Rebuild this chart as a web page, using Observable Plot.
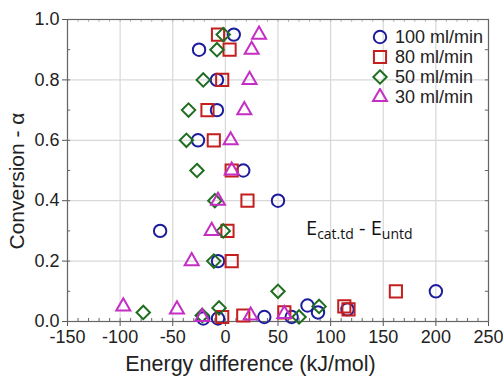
<!DOCTYPE html>
<html><head><meta charset="utf-8">
<script src="https://cdn.jsdelivr.net/npm/d3@7"></script>
<script src="https://cdn.jsdelivr.net/npm/@observablehq/plot@0.6"></script>
<style>
body{margin:0;background:#fff;font-family:"Liberation Sans",Arial,sans-serif;}
#wrap{position:relative;width:503px;height:380px;}
#legend{position:absolute;left:371px;top:27px;font-size:18px;color:#222;line-height:20px;}
#legend div{display:flex;align-items:center;height:20px;}
#legend svg{margin-right:6px;}
#note{position:absolute;left:306px;top:214px;font-family:"Open Sans",sans-serif;font-size:20px;color:#111;white-space:nowrap;}
#note sub{font-size:14px;vertical-align:-4px;}
#xlab{position:absolute;left:0;width:503px;text-align:center;top:352px;font-size:21.5px;color:#222;}
#xlab span{position:relative;left:-1px;}
#ylab{position:absolute;left:17px;top:181px;font-size:21px;color:#222;transform:translate(-50%,-50%) rotate(-90deg);white-space:nowrap;}
</style></head>
<body><div id="wrap"><div id="chart"></div><div id="legend"></div>
<div id="note">E<sub>cat.td</sub> - E<sub>untd</sub></div>
<div id="xlab"><span>Energy difference (kJ/mol)</span></div>
<div id="ylab">Conversion - α</div></div>
<script>
const series = ["100 ml/min","80 ml/min","50 ml/min","30 ml/min"];
const colors = ["#1c1c9c","#c41e1e","#1f6e1f","#c42ec4"];

const e100 = [8,-25,-8,-8,-26,17,50,-62,-7,200,78,88,116,37,63,-21,-7];
const a100 = [0.95,0.9,0.8,0.7,0.6,0.5,0.4,0.3,0.2,0.1,0.053,0.03,0.04,0.015,0.015,0.01,0.01];
const e80 = [-7,4,-3,-17,-11,6,21,2,6,162,56,113,117,-3,17];
const a80 = [0.95,0.9,0.8,0.7,0.6,0.5,0.4,0.3,0.2,0.1,0.03,0.05,0.04,0.015,0.02];
const e50 = [-2,-8,-21,-35,-37,-27,-10,-2,-11,-78,-22,-6,50,89,70];
const a50 = [0.95,0.9,0.8,0.7,0.6,0.5,0.4,0.3,0.2,0.03,0.02,0.045,0.1,0.05,0.015];
const e30 = [32,25,23,18,5,6,-7,-13,-32,-97,-46,-22,24,56];
const a30 = [0.95,0.9,0.8,0.7,0.6,0.5,0.4,0.3,0.2,0.05,0.04,0.015,0.02,0.025];

const xTicks = [-150,-100,-50,0,50,100,150,200,250];
const yTicks = [0,0.2,0.4,0.6,0.8,1.0];

const rad = size => Math.sqrt(size/Math.PI);
const shapes = [
  {draw(c,size){const r=rad(size); c.moveTo(r,0); c.arc(0,0,r,0,2*Math.PI);}},
  {draw(c,size){const h=rad(size)*0.98; c.moveTo(-h,-h); c.lineTo(h,-h); c.lineTo(h,h); c.lineTo(-h,h); c.closePath();}},
  {draw(c,size){const h=rad(size)*1.08; c.moveTo(0,-h); c.lineTo(h,0); c.lineTo(0,h); c.lineTo(-h,0); c.closePath();}},
  {draw(c,size){const R=rad(size)*1.3, t=R/2, u=R*Math.sqrt(3)/2; c.moveTo(0,-R); c.lineTo(u,t); c.lineTo(-u,t); c.closePath();}}
];

const E = [e100,e80,e50,e30], A = [a100,a80,a50,a30];
const data = [];
E.forEach((es,i)=>es.forEach((e,j)=>data.push({e, a:A[i][j], s:series[i]})));

const xMinor = d3.range(-150,251,10);
const yMinor = d3.range(0,1.001,0.1);

const chart = Plot.plot({
  width:503, height:380,
  marginLeft:67, marginRight:15, marginTop:19, marginBottom:59,
  style:{fontFamily:"Liberation Sans, Arial, sans-serif", fontSize:"18px", color:"#222", background:"#fff"},
  x:{domain:[-150,250]},
  y:{domain:[0,1]},
  symbol:{domain:series, range:shapes},
  color:{domain:series, range:colors},
  marks:[
    Plot.gridX(xTicks,{stroke:"#d8d8d8", strokeOpacity:1, strokeWidth:1.2}),
    Plot.gridY(yTicks,{stroke:"#d8d8d8", strokeOpacity:1, strokeWidth:1.2}),
    Plot.ruleX(xMinor,{x:d=>d, y1:0, y2:0.01, stroke:"#666"}),
    Plot.ruleX(xMinor,{x:d=>d, y1:1, y2:0.99, stroke:"#bbb"}),
    Plot.ruleY(yMinor,{y:d=>d, x1:-150, x2:-147, stroke:"#666"}),
    Plot.ruleY(yMinor,{y:d=>d, x1:250, x2:247, stroke:"#666"}),
    Plot.axisX(xTicks,{tickSize:5, tickPadding:4, stroke:"#555", fontSize:18, tickFormat:d=>String(d), label:null}),
    Plot.axisY(yTicks,{tickSize:5, tickPadding:3, stroke:"#555", fontSize:18, tickFormat:d3.format(".1f"), label:null}),
    Plot.frame({stroke:"#666", strokeWidth:1.2}),
    Plot.dot(data,{x:"e", y:"a", symbol:"s", stroke:"s", r:6.2, strokeWidth:2})
  ]
});
document.getElementById("chart").appendChild(chart);

const leg = document.getElementById("legend");
series.forEach((s,i)=>{
  const row = document.createElement("div");
  const p = d3.symbol(shapes[i], Math.PI*6.2*6.2)();
  row.innerHTML = `<svg width="18" height="18" viewBox="-9 -9 18 18"><path d="${p}" fill="none" stroke="${colors[i]}" stroke-width="2"/></svg>${s}`;
  leg.appendChild(row);
});
</script></body></html>
